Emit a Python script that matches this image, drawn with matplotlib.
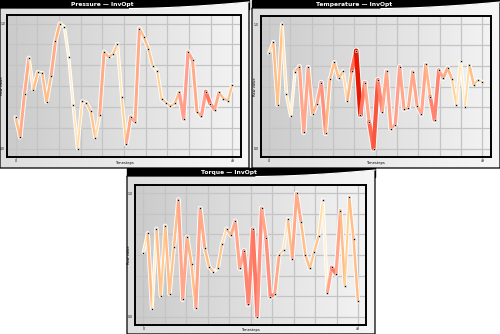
import matplotlib
matplotlib.use('Agg')
import matplotlib.pyplot as plt
import numpy as np
from matplotlib.collections import LineCollection
from matplotlib.colors import LinearSegmentedColormap
from matplotlib.patches import Polygon, Rectangle

# raw values (normalised), 50 timesteps each
pressure = [0.249, 0.091, 0.440, 0.724, 0.472, 0.609, 0.601, 0.373, 0.579, 0.858,
            1.000, 0.976, 0.732, 0.351, 0.000, 0.378, 0.365, 0.298, 0.088, 0.265,
            0.772, 0.732, 0.753, 0.836, 0.410, 0.035, 0.252, 0.212, 0.960, 0.893,
            0.799, 0.660, 0.619, 0.397, 0.365, 0.338, 0.362, 0.450, 0.236, 0.772,
            0.708, 0.295, 0.257, 0.456, 0.359, 0.311, 0.450, 0.399, 0.383, 0.507]
temperature = [0.767, 0.858, 0.351, 1.000, 0.437, 0.263, 0.619, 0.660, 0.131, 0.654,
               0.279, 0.359, 0.531, 0.123, 0.558, 0.694, 0.566, 0.622, 0.383, 0.622,
               0.788, 0.271, 0.531, 0.214, 0.000, 0.552, 0.298, 0.622, 0.158, 0.193,
               0.660, 0.316, 0.327, 0.619, 0.346, 0.276, 0.678, 0.418, 0.231, 0.633,
               0.566, 0.651, 0.560, 0.351, 0.702, 0.338, 0.676, 0.515, 0.552, 0.536]
torque = [0.517, 0.676, 0.064, 0.713, 0.169, 0.737, 0.182, 0.568, 0.949, 0.139,
          0.646, 0.424, 0.070, 0.879, 0.560, 0.405, 0.362, 0.391, 0.592, 0.713,
          0.660, 0.775, 0.391, 0.534, 0.099, 0.708, 0.000, 0.879, 0.641, 0.161,
          0.182, 0.501, 0.539, 0.791, 0.469, 1.000, 0.767, 0.499, 0.391, 0.525,
          0.651, 0.949, 0.190, 0.399, 0.346, 0.861, 0.252, 0.968, 0.630, 0.123]

# per-segment intensity (49 segments each)
pressure_w = [.35, .5, .5, .1, .35, .3, .35, .35, .5, .4,
              .05, .05, .05, .1, .15, .15, .3, .3, .15, .5,
              .35, .35, .3, .1, .2, .5, .55, .5, .35, .35,
              .3, .1, .2, .3, .3, .3, .35, .6, .6, .55,
              .5, .4, .6, .75, .65, .5, .35, .35, .3]
temperature_w = [.15, .35, .3, .1, .1, .05, .35, .55, .55, .5,
                 .4, .55, .65, .4, .35, .35, .35, .15, .4, .8,
                 1.0, .75, .55, .8, .85, .7, .55, .55, .5, .6,
                 .55, .4, .5, .55, .5, .55, .4, .7, .7, .55,
                 .5, .4, .2, .1, .05, .15, .35, .25, .15]
torque_w = [.1, .35, .05, .35, .25, .35, .3, .35, .55, .55,
            .4, .35, .55, .5, .35, .3, .05, .3, .15, .35,
            .5, .55, .55, .7, .7, .75, .65, .55, .65, .7,
            .5, .2, .1, .35, .5, .5, .35, .35, .3, .3,
            .15, .05, .55, .75, .55, .35, .2, .35, .35]

titles = ['Pressure \u2014 InvOpt', 'Temperature \u2014 InvOpt', 'Torque \u2014 InvOpt']

W, H = 500, 334
fig = plt.figure(figsize=(5, 3.34), dpi=100)
fig.patch.set_facecolor('white')

bg = fig.add_axes([0, 0, 1, 1])
bg.axis('off')

cmap = LinearSegmentedColormap.from_list(
    'seg', ['#fff8dc', '#ffd294', '#ffb684', '#ffa08e', '#ff6a52', '#e41a04'])
body_g = LinearSegmentedColormap.from_list('body', ['#dedede', '#f6f6f6'])
axes_g = LinearSegmentedColormap.from_list('axg', ['#cbcbcb', '#f3f3f3'])
grad = np.linspace(0, 1, 256).reshape(1, -1)


def panel(left, top, w, h, title, head=8):
    right = left + w
    xc = left + 0.52 * w
    xs = np.linspace(xc, right, 40)
    ys = top + head - (head - 1.5) * ((xs - xc) / (right - xc)) ** 1.7
    bg.add_patch(Rectangle((left, top), w, head + 1, color='black', zorder=1))
    pts = [(left, top + h), (left, top + head)] + list(zip(xs, ys)) + [(right, top + h)]
    poly = Polygon(pts, closed=True, facecolor='none', edgecolor='black', lw=0.9, zorder=3)
    im = bg.imshow(grad, cmap=body_g, aspect='auto', extent=(left, right, top + h, top + head - 8), zorder=2)
    bg.add_patch(poly)
    im.set_clip_path(poly)
    bg.plot(xs, ys + 0.5, color='white', lw=0.8, zorder=4)
    bg.text(left + 0.41 * w, top + head / 2 + 0.3, title, color='white', fontsize=4.3,
            fontweight='bold', ha='center', va='center', zorder=5)


def chart(box, vals, weights):
    x0, y0, x1, y1 = box
    ax = fig.add_axes([x0 / W, 1 - y1 / H, (x1 - x0) / W, (y1 - y0) / H])
    ax.imshow(grad, cmap=axes_g, aspect='auto', extent=(0, 1, 0, 1), transform=ax.transAxes, zorder=0)
    n = len(vals)
    t = np.arange(n)
    lo, hi = min(vals), max(vals)
    for gx in np.linspace(0, n - 1, 11):
        ax.axvline(gx, color='#c4c4c4', lw=0.9, zorder=1)
    for gy in np.linspace(lo, hi, 7):
        ax.axhline(gy, color='#c4c4c4', lw=0.9, zorder=1)
    pts = np.column_stack([t, vals])
    segs = np.stack([pts[:-1], pts[1:]], axis=1)
    wts = np.array(weights)
    widths = 1.0 + 2.3 * wts
    ax.add_collection(LineCollection(segs, colors='white', linewidths=widths + 1.3, capstyle='round', zorder=2))
    ax.add_collection(LineCollection(segs, colors=cmap(wts), linewidths=widths, capstyle='round', zorder=3))
    ax.plot(t, vals, ls='none', marker='s', ms=1.8, mfc='black', mec='white', mew=0.4, zorder=4)
    ax.set_xlim(-1.9, n - 1 + 1.9)
    pad = (hi - lo) * 0.068
    ax.set_ylim(lo - pad, hi + pad)
    ax.set_xticks([0, n - 1])
    ax.set_xticklabels([str(0), str(n - 1)])
    ax.set_yticks([lo, hi])
    ax.set_yticklabels(['%.1f' % lo, '%.1f' % hi])
    ax.tick_params(labelsize=2.2, length=1.0, width=0.4, pad=0.6)
    for s in ax.spines.values():
        s.set_linewidth(1.4)
        s.set_color('black')
    ax.set_xlabel('Timesteps', fontsize=2.6)
    ax.xaxis.set_label_coords(0.5, -0.025)
    ax.set_ylabel('Raw value', fontsize=2.6)
    ax.yaxis.set_label_coords(-0.016, 0.5)
    return ax


panel(0, 0, 249, 168, titles[0])
panel(252, 0, 248, 168, titles[1])
panel(127, 168, 248, 166, titles[2])
bg.set_xlim(0, W)
bg.set_ylim(H, 0)

chart((7.3, 15, 240.7, 157), pressure, pressure_w)
chart((260.7, 16, 490.7, 157), temperature, temperature_w)
chart((135, 185, 366.3, 325), torque, torque_w)

fig.savefig('out.png', dpi=100)
